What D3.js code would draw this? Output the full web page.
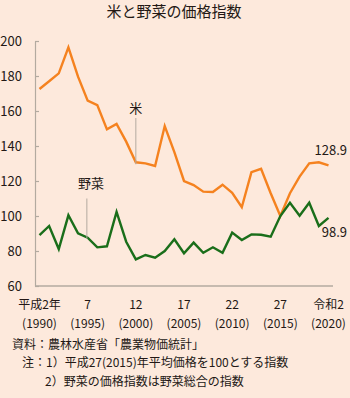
<!DOCTYPE html>
<html><head><meta charset="utf-8">
<script src="https://cdn.jsdelivr.net/npm/d3@7"></script>
<style>
html,body{margin:0;padding:0;background:#fde9dc;}
svg{display:block;}
text{font-family:"Noto Sans CJK JP","Noto Sans",sans-serif;fill:#231815;}
</style></head>
<body>
<svg id="c" width="350" height="398"></svg>
<script>
const years = d3.range(1990, 2021);
const rice = [172.6,177,181.5,196.4,179.6,165.9,163.4,149.5,152.6,142.5,130.7,130.1,128.6,151.4,136.5,120,117.7,113.9,113.7,117.9,113.3,105,125.1,127,113,100,113,122.5,130.1,130.7,128.9];
const veg = [89.1,94.3,81.1,100.4,90.1,87.6,82.1,82.7,102.3,85.3,75.2,77.7,76.2,80,86.7,78.7,84.8,79,82.1,79,90.5,86.3,89.5,89.3,88.2,100,107.6,100.2,107.6,94.3,98.9];
const yTicks = [60,80,100,120,140,160,180,200];
const xTickYears = [1990,1995,2000,2005,2010,2015,2020];
const xLabels1 = ["平成2年","7","12","17","22","27","令和2"];
const xLabels2 = ["(1990)","(1995)","(2000)","(2005)","(2010)","(2015)","(2020)"];
const title = "米と野菜の価格指数";
const notes = ["資料：農林水産省「農業物価統計」","注：1）平成27(2015)年平均価格を100とする指数","2）野菜の価格指数は野菜総合の指数"];

const svg = d3.select("#c");
const x = d3.scaleLinear().domain([1990,2020]).range([39.5,328.5]);
const y = d3.scaleLinear().domain([60,200]).range([286,41]);
const axisCol = "#b3aaa0";

svg.append("text").attr("x",174).attr("y",17).attr("text-anchor","middle")
  .style("font-size","15px").text(title);

// y axis
const ya = svg.append("g").attr("transform","translate(35,0)")
  .call(d3.axisLeft(y).tickValues(yTicks).tickSizeInner(-4).tickSizeOuter(0).tickPadding(13));
ya.select(".domain").attr("stroke",axisCol).attr("stroke-width",1.2);
ya.selectAll(".tick line").attr("stroke",axisCol).attr("stroke-width",1.2);
ya.selectAll(".tick text").style("font-size","13px").style("font-family","'Noto Sans CJK JP',sans-serif").attr("fill","#231815");

// x axis line
svg.append("line").attr("x1",35).attr("x2",333).attr("y1",y(60)).attr("y2",y(60))
  .attr("stroke",axisCol).attr("stroke-width",1.5);

// x labels
const xl = svg.append("g");
xTickYears.forEach((yr,i)=>{
  xl.append("text").attr("x",x(yr)).attr("y",309).attr("text-anchor","middle")
    .style("font-size","12px").text(xLabels1[i]);
  xl.append("text").attr("x",x(yr)).attr("y",328).attr("text-anchor","middle")
    .style("font-size","12px").text(xLabels2[i]);
});

// lines
const line = d3.line().x((d,i)=>x(years[i])).y(d=>y(d));
svg.append("path").datum(rice).attr("d",line).attr("fill","none")
  .attr("stroke","#f5821f").attr("stroke-width",2.4).attr("stroke-linejoin","miter");
svg.append("path").datum(veg).attr("d",line).attr("fill","none")
  .attr("stroke","#1a6e1a").attr("stroke-width",2.4).attr("stroke-linejoin","miter");

// annotations
svg.append("line").attr("x1",x(2000)).attr("x2",x(2000)).attr("y1",y(156)).attr("y2",y(rice[10])+2)
  .attr("stroke",axisCol).attr("stroke-width",1);
svg.append("text").attr("x",x(2000)).attr("y",113).attr("text-anchor","middle")
  .style("font-size","13px").text("米");
svg.append("line").attr("x1",x(1995)-0.8).attr("x2",x(1995)-0.8).attr("y1",y(110)).attr("y2",y(veg[5])+1)
  .attr("stroke",axisCol).attr("stroke-width",1);
svg.append("text").attr("x",91).attr("y",188).attr("text-anchor","middle")
  .style("font-size","13px").text("野菜");

svg.append("text").attr("x",347).attr("y",155).attr("text-anchor","end")
  .style("font-size","13px").text(rice[30].toFixed(1));
svg.append("text").attr("x",347).attr("y",237).attr("text-anchor","end")
  .style("font-size","13px").text(veg[30].toFixed(1));

// notes
svg.append("text").attr("x",12).attr("y",349).style("font-size","12px").text(notes[0]);
svg.append("text").attr("x",22).attr("y",367).style("font-size","12px").text(notes[1]);
svg.append("text").attr("x",45).attr("y",386).style("font-size","12px").text(notes[2]);
</script>
</body></html>
